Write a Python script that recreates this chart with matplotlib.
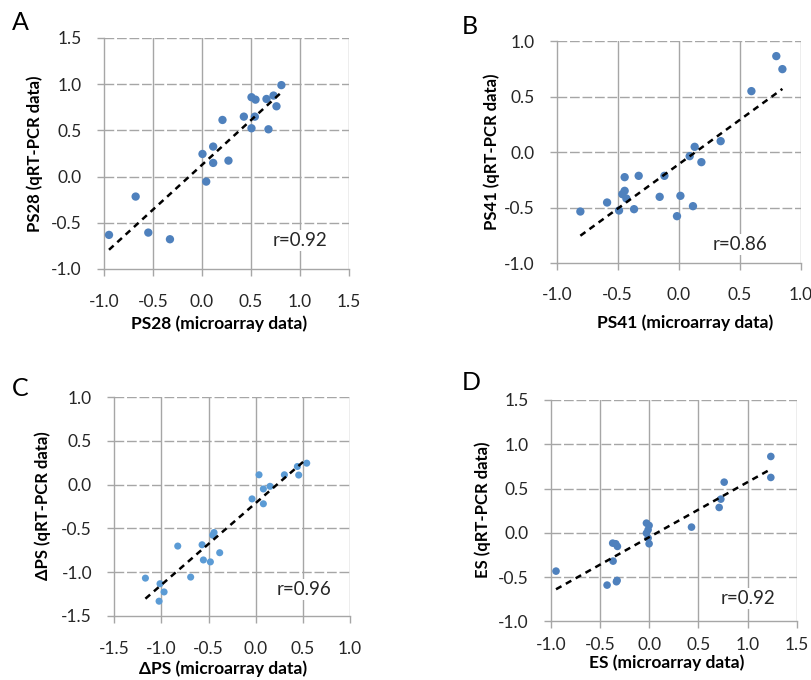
import numpy as np
import matplotlib
matplotlib.use("Agg")
import matplotlib.pyplot as plt

plt.rcParams['font.family'] = ['Lato', 'DejaVu Sans']

# ---------------- data ----------------
ps28_micro = [0.81, 0.73, 0.505, 0.546, 0.658, 0.76, 0.427, 0.539, 0.505, 0.678,
              0.209, 0.114, 0.005, 0.114, 0.27, 0.043, -0.677, -0.949, -0.548, -0.327]
ps28_qpcr = [0.99, 0.877, 0.859, 0.833, 0.84, 0.761, 0.649, 0.649, 0.523, 0.512,
             0.613, 0.325, 0.245, 0.148, 0.173, -0.054, -0.216, -0.631, -0.606, -0.678]

ps41_micro = [0.80, 0.85, 0.596, 0.344, 0.131, 0.09, 0.186, -0.117, -0.328, -0.443, -0.443,
              -0.462, -0.429, -0.156, 0.014, 0.117, -0.014, -0.366, -0.489, -0.587, -0.806]
ps41_qpcr = [0.864, 0.747, 0.549, 0.099, 0.048, -0.036, -0.09, -0.213, -0.213, -0.225, -0.348,
             -0.378, -0.417, -0.402, -0.393, -0.486, -0.576, -0.513, -0.525, -0.453, -0.534]

dps_micro = [0.541, 0.442, 0.456, 0.304, 0.035, 0.081, 0.152, 0.081, -0.039, -0.442, -0.456,
             -0.382, -0.569, -0.555, -0.481, -0.827, -0.69, -1.17, -1.015, -0.972, -1.025]
dps_qpcr = [0.246, 0.208, 0.11, 0.113, 0.113, -0.049, -0.019, -0.219, -0.163, -0.548, -0.578,
            -0.779, -0.688, -0.862, -0.884, -0.703, -1.058, -1.07, -1.134, -1.228, -1.334]

es_micro = [1.237, 1.237, 0.763, 0.729, 0.712, 0.431, -0.027, 0.0, -0.01, -0.027,
            -0.01, 0.0, -0.37, -0.339, -0.322, -0.366, -0.325, -0.332, -0.427, -0.946]
es_qpcr = [0.862, 0.625, 0.572, 0.38, 0.286, 0.064, 0.109, 0.083, 0.034, -0.004,
           -0.06, -0.124, -0.117, -0.124, -0.154, -0.32, -0.538, -0.553, -0.591, -0.433]

panel_letters = ["A", "B", "C", "D"]
x_labels = ["PS28 (microarray data)", "PS41 (microarray data)",
            "\u0394PS (microarray data)", "ES (microarray data)"]
y_labels = ["PS28 (qRT-PCR data)", "PS41 (qRT-PCR data)",
            "\u0394PS (qRT-PCR data)", "ES (qRT-PCR data)"]
r_texts = ["r=0.92", "r=0.86", "r=0.96", "r=0.92"]
ticks_A = [-1.0, -0.5, 0.0, 0.5, 1.0, 1.5]
ticks_B = [-1.0, -0.5, 0.0, 0.5, 1.0]
ticks_C = [-1.5, -1.0, -0.5, 0.0, 0.5, 1.0]
ticks_D = [-1.0, -0.5, 0.0, 0.5, 1.0, 1.5]

# ---------------- layout ----------------
W, H = 812, 680
fig = plt.figure(figsize=(W / 100, H / 100), dpi=100)

def px_axes(x0, x1, ytop, ybot):
    return fig.add_axes([x0 / W, 1 - ybot / H, (x1 - x0) / W, (ybot - ytop) / H])

panels = [
    dict(ax=px_axes(104, 349, 38, 269), x=ps28_micro, y=ps28_qpcr, ticks=ticks_A,
         color="#4F81BD", s=36, rpos=(0.80, 0.125), letter=(12, 22), yl=(35, 154),
         xl=(219, 324), xpad=13),
    dict(ax=px_axes(556.7, 800.7, 41, 263.3), x=ps41_micro, y=ps41_qpcr, ticks=ticks_B,
         color="#4F81BD", s=36, rpos=(0.75, 0.085), letter=(462, 27), yl=(491.7, 152),
         xl=(685, 323), xpad=12),
    dict(ax=px_axes(114.3, 350, 397.3, 615.7), x=dps_micro, y=dps_qpcr, ticks=ticks_C,
         color="#5B9BD5", s=26, rpos=(0.805, 0.118), letter=(12, 388), yl=(43, 506),
         xl=(223, 669), xpad=13),
    dict(ax=px_axes(550.7, 796.7, 400, 621.3), x=es_micro, y=es_qpcr, ticks=ticks_D,
         color="#4F81BD", s=30, rpos=(0.80, 0.105), letter=(462, 382), yl=(483, 510),
         xl=(667, 663), xpad=6),
]

grid_col = "#A6A6A6"
for i, p in enumerate(panels):
    ax = p["ax"]
    t = p["ticks"]
    ax.set_xlim(t[0], t[-1])
    ax.set_ylim(t[0], t[-1])
    ax.set_xticks(t)
    ax.set_yticks(t)
    ax.set_xticklabels([f"{v:.1f}" for v in t])
    ax.set_yticklabels([f"{v:.1f}" for v in t])
    for sp in ["top", "right"]:
        ax.spines[sp].set_visible(False)
    for sp in ["left", "bottom"]:
        ax.spines[sp].set_color(grid_col)
        ax.spines[sp].set_linewidth(1.0)
    ax.tick_params(axis="x", direction="out", length=5, width=1, color=grid_col,
                   labelsize=12.5, labelcolor="#262626", pad=p["xpad"])
    ax.tick_params(axis="y", direction="out", length=5, width=1, color=grid_col,
                   labelsize=12.5, labelcolor="#262626", pad=11)
    # gridlines: vertical solid, horizontal dashed
    for v in t[1:]:
        ax.axvline(v, color=grid_col, lw=1.0, zorder=0)
    for v in t[1:]:
        ax.axhline(v, color=grid_col, lw=1.0, ls=(0, (7, 2)), zorder=0)

    x = np.array(p["x"])
    y = np.array(p["y"])
    ax.scatter(x, y, s=p["s"], color=p["color"], edgecolors="none", zorder=3)
    k, b = np.polyfit(x, y, 1)
    xs = np.array([x.min(), x.max()])
    ax.plot(xs, k * xs + b, color="black", lw=1.8, ls=(0, (2.5, 2)), zorder=4)

    ax.text(p["rpos"][0], p["rpos"][1], r_texts[i], transform=ax.transAxes,
            ha="center", va="center", fontsize=13.5, color="#262626", zorder=5,
            bbox=dict(facecolor="white", edgecolor="none", pad=1.5))

    fig.text(p["xl"][0] / W, 1 - p["xl"][1] / H, x_labels[i], fontsize=12.5,
             fontweight="bold", ha="center", va="center")
    fig.text(p["yl"][0] / W, 1 - p["yl"][1] / H, y_labels[i], fontsize=12,
             fontweight="bold", ha="center", va="center", rotation=90)

    fig.text(p["letter"][0] / W, 1 - p["letter"][1] / H, panel_letters[i],
             fontsize=18, ha="left", va="center")

fig.savefig("out.png", dpi=100)
